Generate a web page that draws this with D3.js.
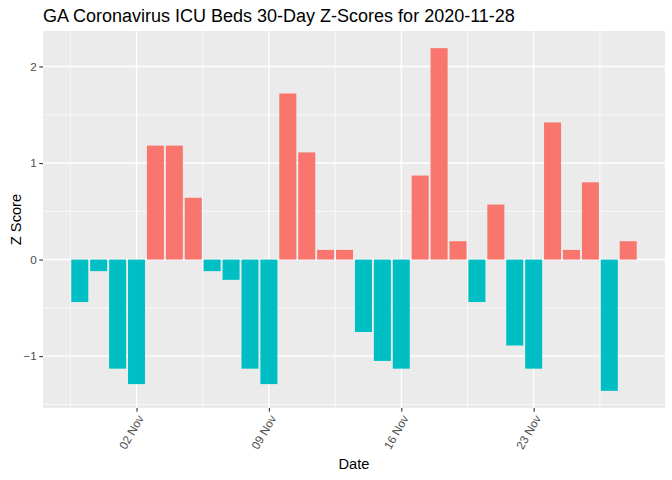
<!DOCTYPE html>
<html>
<head>
<meta charset="utf-8">
<script src="https://cdn.jsdelivr.net/npm/d3@7"></script>
<style>
  body { margin: 0; background: #fff; }
  svg { display: block; font-family: "Liberation Sans", Arial, sans-serif; }
</style>
</head>
<body>
<div id="chart"></div>
<script>
// 30 days of z-scores
const dates = [
  "2020-10-30", "2020-10-31", "2020-11-01", "2020-11-02", "2020-11-03",
  "2020-11-04", "2020-11-05", "2020-11-06", "2020-11-07", "2020-11-08",
  "2020-11-09", "2020-11-10", "2020-11-11", "2020-11-12", "2020-11-13",
  "2020-11-14", "2020-11-15", "2020-11-16", "2020-11-17", "2020-11-18",
  "2020-11-19", "2020-11-20", "2020-11-21", "2020-11-22", "2020-11-23",
  "2020-11-24", "2020-11-25", "2020-11-26", "2020-11-27", "2020-11-28"
];
const zScores = [
  -0.44, -0.12, -1.13, -1.29, 1.18,
  1.18, 0.64, -0.12, -0.21, -1.13,
  -1.29, 1.72, 1.11, 0.10, 0.10,
  -0.75, -1.05, -1.13, 0.87, 2.19,
  0.19, -0.44, 0.57, -0.89, -1.13,
  1.42, 0.10, 0.80, -1.36, 0.19
];
const xTickDates = ["2020-11-02", "2020-11-09", "2020-11-16", "2020-11-23"];
const yTicks = [-1, 0, 1, 2];
const yMinor = [-1.5, -0.5, 0.5, 1.5];

const parse = d3.utcParse("%Y-%m-%d");
const data = dates.map((d, i) => ({ date: parse(d), z: zScores[i] }));

const width = 672;
const height = 480;
const margin = { top: 31, right: 7, bottom: 72, left: 43 };
const day = 864e5;

const svg = d3.select("#chart").append("svg")
    .attr("width", width)
    .attr("height", height);

// x: continuous date scale, bars 0.9 day wide, 5% expansion like ggplot
const xMin = d3.min(data, d => d.date).getTime() - 0.45 * day;
const xMax = d3.max(data, d => d.date).getTime() + 0.45 * day;
const xPad = (xMax - xMin) * 0.05;
const x = d3.scaleUtc()
    .domain([new Date(xMin - xPad), new Date(xMax + xPad)])
    .range([margin.left, width - margin.right]);

const yLo = Math.min(0, d3.min(zScores));
const yHi = Math.max(0, d3.max(zScores));
const yPad = (yHi - yLo) * 0.05;
const y = d3.scaleLinear()
    .domain([yLo - yPad, yHi + yPad])
    .range([height - margin.bottom, margin.top]);

// panel background
svg.append("rect")
    .attr("x", margin.left)
    .attr("y", margin.top)
    .attr("width", width - margin.left - margin.right)
    .attr("height", height - margin.top - margin.bottom)
    .attr("fill", "#EBEBEB");

const xMajor = xTickDates.map(parse);
// minor grid halfway between majors (and one step outside)
const step = 7 * day;
const xMinor = [];
for (let t = xMajor[0].getTime() - step / 2; t <= x.domain()[1].getTime(); t += step) {
  if (t >= x.domain()[0].getTime()) xMinor.push(new Date(t));
}

const grid = svg.append("g").attr("stroke", "#fff").attr("fill", "none");

grid.selectAll("line.ymin")
  .data(yMinor)
  .join("line")
    .attr("class", "ymin")
    .attr("x1", margin.left).attr("x2", width - margin.right)
    .attr("y1", d => y(d)).attr("y2", d => y(d))
    .attr("stroke-width", 0.7);

grid.selectAll("line.xmin")
  .data(xMinor)
  .join("line")
    .attr("class", "xmin")
    .attr("y1", margin.top).attr("y2", height - margin.bottom)
    .attr("x1", d => x(d)).attr("x2", d => x(d))
    .attr("stroke-width", 0.7);

grid.selectAll("line.ymaj")
  .data(yTicks)
  .join("line")
    .attr("class", "ymaj")
    .attr("x1", margin.left).attr("x2", width - margin.right)
    .attr("y1", d => y(d)).attr("y2", d => y(d))
    .attr("stroke-width", 1.4);

grid.selectAll("line.xmaj")
  .data(xMajor)
  .join("line")
    .attr("class", "xmaj")
    .attr("y1", margin.top).attr("y2", height - margin.bottom)
    .attr("x1", d => x(d)).attr("x2", d => x(d))
    .attr("stroke-width", 1.4);

// bars
const barW = x(new Date(0.9 * day)) - x(new Date(0));
svg.append("g")
  .selectAll("rect")
  .data(data)
  .join("rect")
    .attr("x", d => x(d.date) - barW / 2)
    .attr("width", barW)
    .attr("y", d => y(Math.max(0, d.z)))
    .attr("height", d => Math.abs(y(d.z) - y(0)))
    .attr("fill", d => d.z >= 0 ? "#F8766D" : "#00BFC4");

// axes
const yAxis = svg.append("g")
    .attr("transform", `translate(${margin.left},0)`)
    .call(d3.axisLeft(y).tickValues(yTicks).tickSize(3.7).tickPadding(2.6).tickFormat(d3.format("d")));
yAxis.select(".domain").remove();
yAxis.selectAll(".tick line").attr("stroke", "#333333").attr("stroke-width", 1.1);
yAxis.selectAll(".tick text")
    .attr("fill", "#4D4D4D")
    .attr("font-size", "11.7px")
    .attr("font-family", "Liberation Sans, Arial, sans-serif");

const xAxis = svg.append("g")
    .attr("transform", `translate(0,${height - margin.bottom})`)
    .call(d3.axisBottom(x).tickValues(xMajor).tickSize(3.7).tickFormat(d3.utcFormat("%d %b")));
xAxis.select(".domain").remove();
xAxis.selectAll(".tick line").attr("stroke", "#333333").attr("stroke-width", 1.1);
xAxis.selectAll(".tick text")
    .attr("fill", "#4D4D4D")
    .attr("font-size", "11.7px")
    .attr("font-family", "Liberation Sans, Arial, sans-serif")
    .attr("text-anchor", "end")
    .attr("transform", "translate(0,6) rotate(-60)")
    .attr("y", 0)
    .attr("dy", "0.71em");

// titles
svg.append("text")
    .attr("x", margin.left)
    .attr("y", 22)
    .attr("font-size", "18px")
    .attr("fill", "#000")
    .text("GA Coronavirus ICU Beds 30-Day Z-Scores for 2020-11-28");

svg.append("text")
    .attr("x", (margin.left + width - margin.right) / 2)
    .attr("y", 469)
    .attr("text-anchor", "middle")
    .attr("font-size", "14.67px")
    .attr("fill", "#000")
    .text("Date");

svg.append("text")
    .attr("transform", `translate(20.5,${(margin.top + height - margin.bottom) / 2}) rotate(-90)`)
    .attr("text-anchor", "middle")
    .attr("font-size", "14.67px")
    .attr("fill", "#000")
    .text("Z Score");
</script>
</body>
</html>
